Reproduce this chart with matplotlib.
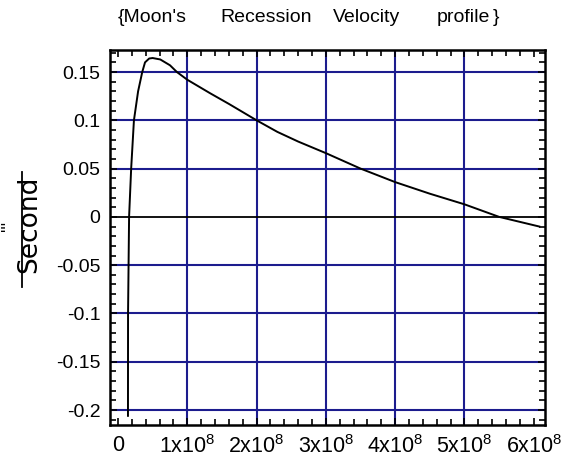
import matplotlib
matplotlib.use("Agg")
import matplotlib.pyplot as plt
from matplotlib.ticker import MultipleLocator
import numpy as np

plt.rcParams['font.family'] = ['Liberation Sans', 'DejaVu Sans']
plt.rcParams['mathtext.fontset'] = 'custom'
plt.rcParams['mathtext.rm'] = 'Liberation Sans'
plt.rcParams['mathtext.it'] = 'Liberation Sans'

# velocity profile (x in metres, y in m/s)
dist = np.array([0.144, 0.145, 0.16, 0.19, 0.23, 0.29, 0.35, 0.39, 0.45, 0.5,
                 0.61, 0.75, 0.85, 1.0, 1.33, 1.6, 2.0, 2.3, 2.6, 3.0,
                 3.5, 4.0, 4.5, 5.0, 5.5, 6.08]) * 1e8
vel = np.array([-0.206, -0.1, 0.0, 0.05, 0.1, 0.13, 0.15, 0.160, 0.164, 0.1645,
                0.163, 0.157, 0.15, 0.142, 0.128, 0.117, 0.100, 0.088, 0.078, 0.066,
                0.050, 0.036, 0.024, 0.013, 0.000, -0.010])

xticks = [0, 1e8, 2e8, 3e8, 4e8, 5e8, 6e8]
xlabels = ['0', '1x10$^{8}$', '2x10$^{8}$', '3x10$^{8}$', '4x10$^{8}$', '5x10$^{8}$', '6x10$^{8}$']
yticks = [-0.2, -0.15, -0.1, -0.05, 0, 0.05, 0.1, 0.15]
ylabels = ['-0.2', '-0.15', '-0.1', '-0.05', '0', '0.05', '0.1', '0.15']
title_words = ["{Moon's", "Recession", "Velocity", "profile", "}"]
title_x = [118, 220, 333, 437, 493]

W, H = 561, 463
fig = plt.figure(figsize=(W / 100, H / 100), dpi=100)
ax = fig.add_axes([110 / W, 1 - 425 / H, (545 - 110) / W, (425 - 50) / H])

navy = '#1c1c8e'
for xv in xticks[1:-1]:
    ax.axvline(xv, color=navy, lw=1.5, zorder=1)
for yv in yticks:
    if yv != 0:
        ax.axhline(yv, color=navy, lw=1.5, zorder=1)
ax.axhline(0, color='black', lw=1.3, zorder=2)

ax.plot(dist, vel, color='black', lw=1.4, zorder=3)

ax.set_xlim(-0.1154e8, 6.162e8)
ax.set_ylim(-0.2155, 0.1728)
ax.set_xticks(xticks)
ax.set_xticklabels(xlabels, fontsize=15.5)
ax.set_yticks(yticks)
ax.set_yticklabels(ylabels, fontsize=14)
ax.xaxis.set_minor_locator(MultipleLocator(0.2e8))
ax.yaxis.set_minor_locator(MultipleLocator(0.01))
ax.tick_params(which='both', direction='in', top=True, right=True, width=1.2)
ax.tick_params(which='major', length=5, pad=7)
ax.tick_params(which='minor', length=4)
for s in ax.spines.values():
    s.set_linewidth(1.8)

# title, spaced out like the original
for word, px in zip(title_words, title_x):
    fig.text(px / W, 1 - 18 / H, word, fontsize=14, ha='left', va='center')

# y label: a squashed fraction "'''/Second"
fig.text(29 / W, 1 - 224 / H, "Second", fontsize=19, family='DejaVu Sans',
         rotation=90, ha='center', va='center')
fig.text(9 / W, 1 - 226 / H, "'''", fontsize=13, rotation=90, ha='center', va='center')
fig.add_artist(plt.Line2D([22 / W, 22 / W], [1 - 172 / H, 1 - 287 / H],
                          color='black', lw=1.3, transform=fig.transFigure))

fig.savefig('out.png', dpi=100)
